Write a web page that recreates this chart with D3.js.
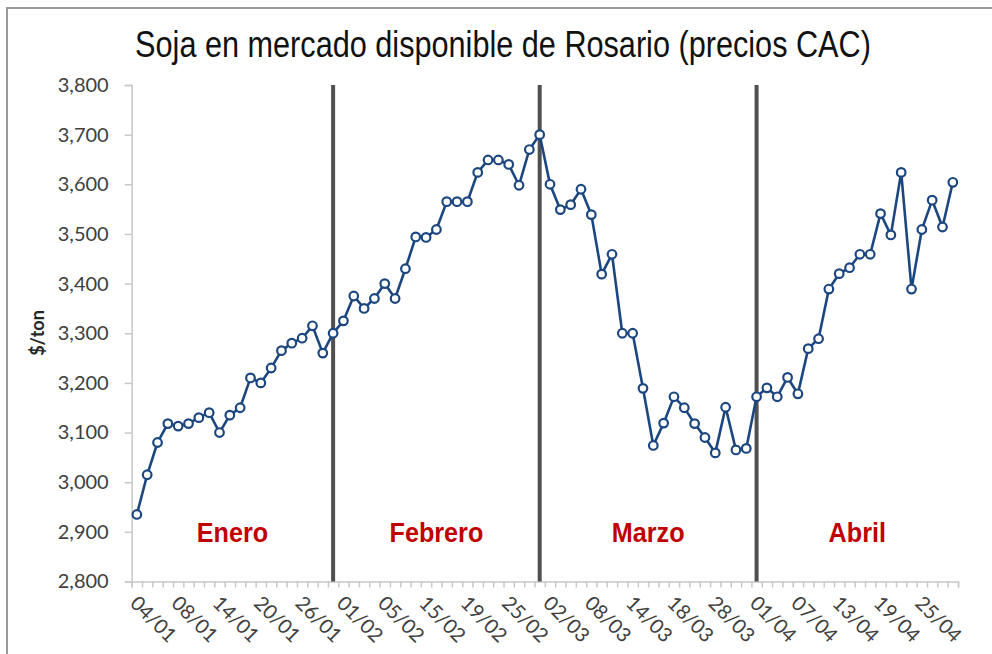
<!DOCTYPE html>
<html>
<head>
<meta charset="utf-8">
<script src="https://cdn.jsdelivr.net/npm/d3@7"></script>
<style>
  body { margin: 0; background: #fff; }
  .tick text { font-family: Lato, "Open Sans", sans-serif; fill: #404040; }
</style>
</head>
<body>
<svg id="chart"></svg>
<script>
// data
const tickLabels = ["04/01", "08/01", "14/01", "20/01", "26/01", "01/02", "05/02", "15/02", "19/02", "25/02",
  "02/03", "08/03", "14/03", "18/03", "28/03", "01/04", "07/04", "13/04", "19/04", "25/04"];

const prices = [
  2935, 3015, 3080, 3118, 3113, 3118, 3130, 3140, 3100, 3135, 3150, 3210, 3200, 3230, 3265, 3280, 3290, 3315, 3260, 3300,
  3325, 3375, 3350, 3370, 3400, 3370, 3430, 3494, 3493, 3509, 3565, 3565, 3565, 3624, 3649, 3649, 3640, 3598, 3670, 3700,
  3600, 3549, 3559, 3590, 3539, 3419, 3459, 3300, 3300, 3189, 3074, 3119, 3172, 3150, 3118, 3090, 3059, 3151, 3065, 3068,
  3172, 3190, 3172, 3211, 3178, 3269, 3289, 3389, 3420, 3432, 3459, 3459, 3541, 3498, 3624, 3389, 3509, 3568, 3514, 3604
];

const months = ["Enero", "Febrero", "Marzo", "Abril"];
const monthBreaks = [19, 39, 60];   // index of the point where each vertical bar sits
const yTicks = [2800, 2900, 3000, 3100, 3200, 3300, 3400, 3500, 3600, 3700, 3800];

// layout constants
const w = 992;
const h = 654;
const plotLeft = 131.7, plotRight = 958, plotTop = 85, plotBottom = 581.5;
const blue = "#1c4680";
const sans = "'Liberation Sans', Arial, sans-serif";

const svg = d3.select("#chart")
  .attr("width", w)
  .attr("height", h);

// outer frame (only left/top edges are inside the picture)
svg.append("path")
  .attr("d", `M7,${h} V8 H${w}`)
  .attr("fill", "none")
  .attr("stroke", "#9a9a9a")
  .attr("stroke-width", 2);

// scales
const idx = d3.range(prices.length);
const xBand = d3.scaleBand().domain(idx).range([plotLeft, plotRight]);
const xPos = i => xBand(i) + xBand.bandwidth() / 2;
const xEdge = d3.scaleLinear().domain([0, prices.length]).range([plotLeft, plotRight]);

const yScale = d3.scaleLinear()
  .domain([2800, 3800])
  .range([plotBottom, plotTop]);

// y axis
const yAxis = svg.append("g")
  .attr("transform", `translate(${plotLeft},0)`)
  .call(d3.axisLeft(yScale).tickValues(yTicks).tickSize(7).tickPadding(16)
    .tickFormat(d3.format(",")));
yAxis.select(".domain").attr("stroke", "#c8c8c8").attr("stroke-width", 1.5);
yAxis.selectAll(".tick line").attr("stroke", "#c8c8c8").attr("stroke-width", 1.5);
yAxis.selectAll(".tick text").style("font-size", "20px");

// x axis: minor ticks on every category edge
const xAxis = svg.append("g")
  .attr("transform", `translate(0,${plotBottom})`)
  .call(d3.axisBottom(xEdge).tickValues(d3.range(prices.length + 1)).tickSize(6).tickFormat(""));
xAxis.select(".domain").attr("stroke", "#c8c8c8").attr("stroke-width", 1.5);
xAxis.selectAll(".tick line").attr("stroke", "#c8c8c8").attr("stroke-width", 1.5);

// rotated date labels, every 4th point
svg.append("g").selectAll("text")
  .data(tickLabels)
  .enter()
  .append("text")
  .attr("transform", (d, i) => `translate(${xPos(i * 4) - 3},${plotBottom + 18}) rotate(45)`)
  .attr("dy", "0.35em")
  .style("font-family", "Lato, 'Open Sans', sans-serif")
  .style("font-size", "20px")
  .attr("fill", "#404040")
  .text(d => d);

// month separators
svg.selectAll("line.sep")
  .data(monthBreaks)
  .enter()
  .append("line")
  .attr("class", "sep")
  .attr("x1", d => xPos(d)).attr("x2", d => xPos(d))
  .attr("y1", plotTop).attr("y2", plotBottom)
  .attr("stroke", "#505050")
  .attr("stroke-width", 4);

// month names, centered between separators (narrowed Liberation Sans)
const bounds = [plotLeft, ...monthBreaks.map(xPos), plotRight];
svg.selectAll("text.month")
  .data(months)
  .enter()
  .append("text")
  .attr("class", "month")
  .attr("transform", (d, i) => `translate(${(bounds[i] + bounds[i + 1]) / 2},542) scale(0.9,1)`)
  .attr("text-anchor", "middle")
  .style("font-family", sans)
  .style("font-weight", "bold")
  .style("font-size", "28px")
  .attr("fill", "#c00000")
  .text(d => d);

// price line
const line = d3.line()
  .x((d, i) => xPos(i))
  .y(d => yScale(d));

svg.append("path")
  .datum(prices)
  .attr("d", line)
  .attr("fill", "none")
  .attr("stroke", blue)
  .attr("stroke-width", 2.6);

svg.selectAll("circle")
  .data(prices)
  .enter()
  .append("circle")
  .attr("cx", (d, i) => xPos(i))
  .attr("cy", d => yScale(d))
  .attr("r", 4.3)
  .attr("fill", "#fff")
  .attr("stroke", blue)
  .attr("stroke-width", 2.2);

// y axis title
svg.append("text")
  .attr("transform", "translate(44,333) rotate(-90)")
  .attr("text-anchor", "middle")
  .style("font-family", "Lato, 'Open Sans', sans-serif")
  .style("font-weight", "bold")
  .style("font-size", "18px")
  .attr("fill", "#262626")
  .text("$/ton");

// chart title, squeezed horizontally to look like a narrow face
const title = svg.append("text")
  .attr("text-anchor", "middle")
  .style("font-family", sans)
  .style("font-size", "36px")
  .attr("fill", "#111")
  .text("Soja en mercado disponible de Rosario (precios CAC)");
const sx = 736 / title.node().getComputedTextLength();
title.attr("transform", `translate(503,57) scale(${sx},1)`);
</script>
</body>
</html>
